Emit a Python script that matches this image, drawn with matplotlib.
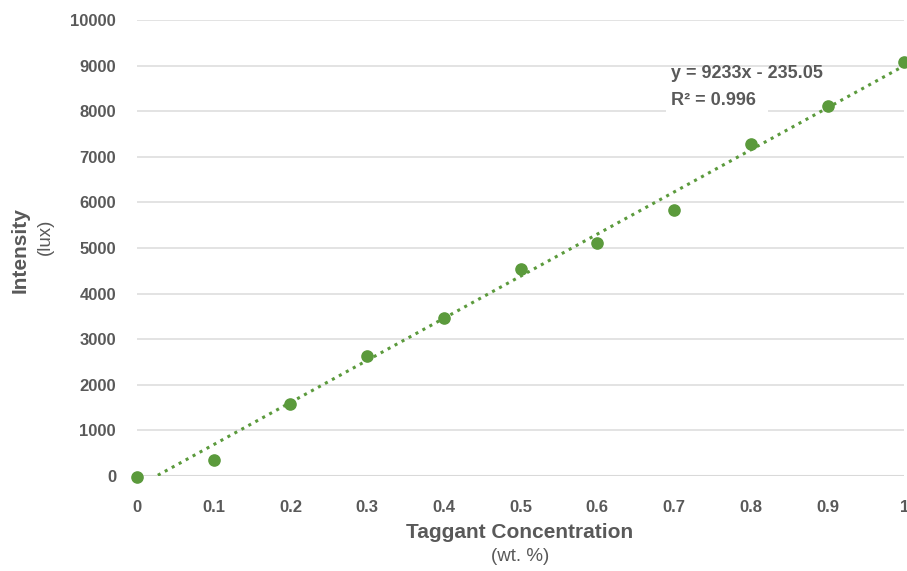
import numpy as np
import matplotlib.pyplot as plt
from matplotlib.patches import Rectangle

# data
conc = [0.0, 0.1, 0.2, 0.3, 0.4, 0.5, 0.6, 0.7, 0.8, 0.9, 1.0]
intensity = [-30, 350, 1580, 2630, 3470, 4540, 5110, 5830, 7280, 8110, 9080]
slope, intercept = 9233, -235.05
r2 = 0.996

x_ticks = [0, 0.1, 0.2, 0.3, 0.4, 0.5, 0.6, 0.7, 0.8, 0.9, 1]
x_labels = ['0', '0.1', '0.2', '0.3', '0.4', '0.5', '0.6', '0.7', '0.8', '0.9', '1']
y_ticks = list(range(0, 10001, 1000))

green = '#5b9a3c'
grey = '#595959'

plt.rcParams['font.family'] = ['Liberation Sans', 'DejaVu Sans']

fig = plt.figure(figsize=(9.07, 5.71), dpi=100)
ax = fig.add_axes([0.151, 0.1664, 0.846, 0.7986])

# trendline (Excel style dotted), clipped to y >= 0
xt = np.linspace(0, 1, 200)
yt = slope * xt + intercept
ax.plot(xt, yt, linestyle=(0, (1, 1.6)), color=green, linewidth=2.2, zorder=3)

ax.scatter(conc, intensity, s=65, color=green, zorder=4, clip_on=False)

ax.set_xlim(0, 1)
ax.set_ylim(0, 10000)
ax.set_xticks(x_ticks)
ax.set_xticklabels(x_labels)
ax.set_yticks(y_ticks)
ax.grid(axis='y', color='#dedede', linewidth=1.2)
ax.set_axisbelow(True)
for s in ax.spines.values():
    s.set_visible(False)
ax.axhline(0, color='#d9d9d9', linewidth=1.5, zorder=1)
ax.tick_params(length=0, labelsize=12, labelcolor=grey)
ax.tick_params(axis='x', pad=17)
ax.tick_params(axis='y', pad=15)
for lab in ax.get_xticklabels() + ax.get_yticklabels():
    lab.set_fontweight('bold')

# axis titles
fig.text(0.573, 0.068, 'Taggant Concentration', ha='center', va='center',
         fontsize=15, fontweight='bold', color=grey)
fig.text(0.573, 0.026, '(wt. %)', ha='center', va='center',
         fontsize=13.5, color=grey)
fig.text(0.022, 0.562, 'Intensity', ha='center', va='center', rotation=90,
         fontsize=15, fontweight='bold', color=grey)
fig.text(0.050, 0.585, '(lux)', ha='center', va='center', rotation=90,
         fontsize=13.5, color=grey)

# equation label with white backing (hides the gridline behind it)
ax.add_patch(Rectangle((0.69, 7780), 0.133, 1100, facecolor='white',
                       edgecolor='none', zorder=2))
ax.text(0.696, 8530, f'y = {slope}x - {abs(intercept)}\nR² = {r2}',
        ha='left', va='center', fontsize=13, fontweight='bold', color=grey,
        linespacing=1.75, zorder=5)

fig.savefig('out.png', dpi=100)
